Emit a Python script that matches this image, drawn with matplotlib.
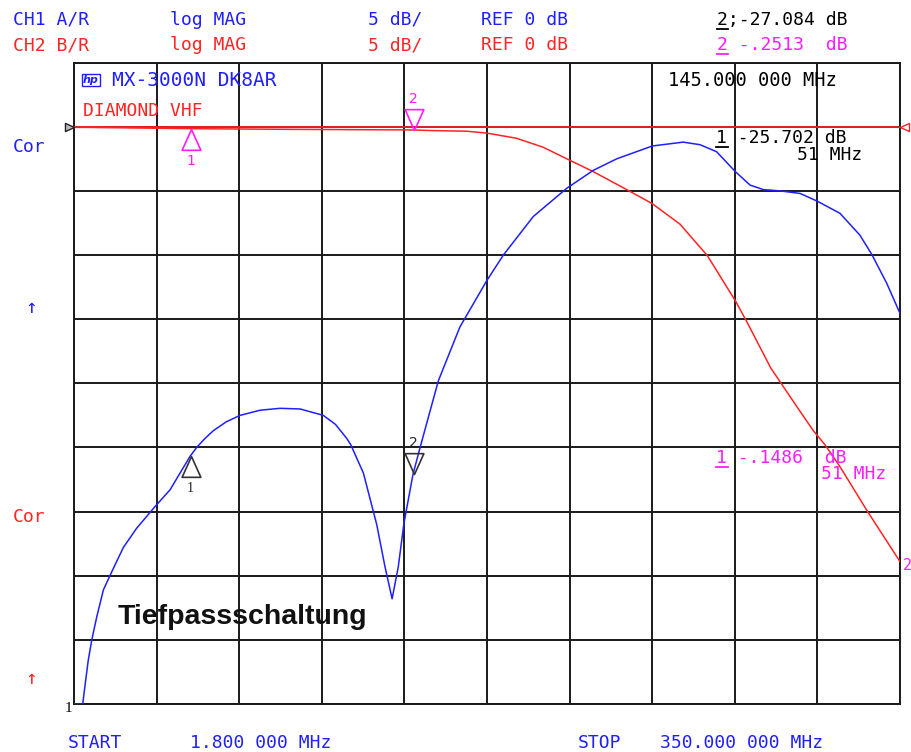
import matplotlib
matplotlib.use("Agg")
import matplotlib.pyplot as plt
from matplotlib.path import Path
from matplotlib.lines import Line2D
import numpy as np

W, H = 911, 752

# ---- data (MHz, dB) ----
f_start, f_stop = 1.8, 350.0
db_top, db_bottom = 5.0, -45.0

blue_f = [1.8, 5.5, 6.0, 7.8, 9.3, 11.4, 14.2, 17.7, 22.6, 28.2, 36.0, 42.3, 50.7,
          53.5, 57.0, 60.5, 66.0, 71.8, 80.2, 88.6, 97.1, 106.9, 112.0, 116.8, 118.5,
          123.8, 127.3, 129.4, 132.9, 135.9, 138.5, 140.9, 144.7, 147.7, 155.4, 164.5,
          175.8, 182.8, 195.4, 209.5, 220.7, 230.6, 245.6, 258.6, 265.7, 272.7, 280.6,
          286.8, 292.4, 299.4, 307.9, 315.1, 324.7, 333.1, 338.1, 344.4, 350.0]
blue_db = [-45.0, -45.0, -44.2, -41.6, -40.0, -38.2, -36.1, -34.7, -32.8, -31.3, -29.6,
           -28.3, -25.7, -25.0, -24.3, -23.7, -23.0, -22.5, -22.1, -21.95, -22.0, -22.5,
           -23.2, -24.3, -24.8, -27.0, -29.5, -31.0, -34.3, -36.8, -34.3, -30.9, -27.1,
           -25.0, -19.8, -15.6, -12.0, -10.0, -7.0, -4.8, -3.4, -2.5, -1.5, -1.2, -1.4,
           -1.95, -3.5, -4.55, -4.9, -5.0, -5.2, -5.8, -6.75, -8.45, -9.95, -12.2, -14.55]

red_f = [1.8, 6.9, 50.7, 89.9, 144.7, 153.1, 167.5, 176.0, 188.4, 199.6, 211.2, 220.7,
         234.8, 245.6, 257.3, 268.8, 280.7, 285.7, 295.5, 306.8, 313.5, 318.4,
         324.7, 336.0, 341.6, 350.0]
red_db = [-0.05, -0.05, -0.149, -0.2, -0.251, -0.3, -0.35, -0.5, -0.9, -1.6, -2.65,
          -3.5, -4.9, -6.0, -7.6, -10.05, -13.6, -15.3, -18.8, -21.9, -23.7,
          -24.8, -26.5, -29.9, -31.5, -33.9]

marker_f = [51.0, 145.0]
ch1_marker_db = [-25.702, -27.084]
ch2_marker_db = [-0.1486, -0.2513]
marker_names = ["1", "2"]

BLUE = "#1f1fff"
RED = "#ff2424"
MAG = "#ff1cff"
BLK = "#1a1a1a"
MONO = "DejaVu Sans Mono"
FS = 13

fig = plt.figure(figsize=(W / 100, H / 100), dpi=100)
fig.patch.set_facecolor("white")
ax = fig.add_axes([74 / W, 1 - 704 / H, (900 - 74) / W, (704 - 62.6) / H])
ax.set_xlim(f_start, f_stop)
ax.set_ylim(db_bottom, db_top)
ax.set_xticks(np.linspace(f_start, f_stop, 11))
ax.set_yticks(np.linspace(db_bottom, db_top, 11))
ax.grid(True, color=BLK, lw=1.4)
ax.tick_params(length=0, labelbottom=False, labelleft=False)
for s in ax.spines.values():
    s.set_color(BLK)
    s.set_linewidth(1.4)

# reference line
ax.axhline(0, color=RED, lw=1.2, zorder=3)

# traces
ax.plot(red_f, red_db, color=RED, lw=1.1, zorder=4)
ax.plot(blue_f, blue_db, color=BLUE, lw=1.1, zorder=4)

# marker shapes (apex at the data point)
up_tri = Path([(0, 0), (-0.45, -1), (0.45, -1), (0, 0)],
              [Path.MOVETO, Path.LINETO, Path.LINETO, Path.CLOSEPOLY])
down_tri = Path([(0, 0), (-0.45, 1), (0.45, 1), (0, 0)],
                [Path.MOVETO, Path.LINETO, Path.LINETO, Path.CLOSEPOLY])
left_tri = Path([(0, 0), (1, 0.45), (1, -0.45), (0, 0)],
                [Path.MOVETO, Path.LINETO, Path.LINETO, Path.CLOSEPOLY])
right_tri = Path([(0, 0), (-1, 0.45), (-1, -0.45), (0, 0)],
                 [Path.MOVETO, Path.LINETO, Path.LINETO, Path.CLOSEPOLY])

shapes = [up_tri, down_tri]
for i, (fm, name) in enumerate(zip(marker_f, marker_names)):
    shp = shapes[i]
    ax.plot([fm], [ch2_marker_db[i]], marker=shp, ms=30, mfc="none", mec=MAG, mew=1.2,
            ls="none", zorder=6)
    ax.plot([fm], [ch1_marker_db[i]], marker=shp, ms=30, mfc="none", mec="#333333",
            mew=1.2, ls="none", zorder=6)
    off = -32 if i == 0 else 31
    ax.annotate(name, (fm, ch2_marker_db[i]), xytext=(0, off), textcoords="offset pixels",
                ha="center", va="center", color=MAG, fontsize=10, family="DejaVu Sans")
    ax.annotate(name, (fm, ch1_marker_db[i]), xytext=(0, off), textcoords="offset pixels",
                ha="center", va="center", color="#222222", fontsize=10,
                family="Liberation Serif" if i == 0 else "DejaVu Sans")

# reference position arrows
ax.plot([f_start], [0], marker=right_tri, ms=13, mfc="#bbbbbb", mec="#222222", mew=1,
        ls="none", clip_on=False, zorder=7)
ax.plot([f_stop], [0], marker=left_tri, ms=13, mfc="white", mec=RED, mew=1,
        ls="none", clip_on=False, zorder=7)


def ftext(x, y, s, color, size=FS, ha="left", **kw):
    kw.setdefault("family", MONO)
    return fig.text(x / W, 1 - y / H, s, color=color, fontsize=size, ha=ha, va="center", **kw)


def uline(x0, x1, y, color):
    fig.add_artist(Line2D([x0 / W, x1 / W], [1 - y / H, 1 - y / H], color=color, lw=1.3,
                          transform=fig.transFigure))


# header
ftext(13, 20, "CH1 A/R", BLUE)
ftext(170, 20, "log MAG", BLUE)
ftext(368, 20, "5 dB/", BLUE)
ftext(481, 20, "REF 0 dB", BLUE)
ftext(717, 20, f"2;{ch1_marker_db[1]:.3f} dB", "black")
uline(717, 728, 29, "black")
ftext(13, 45, "CH2 B/R", RED)
ftext(170, 45, "log MAG", RED)
ftext(368, 45, "5 dB/", RED)
ftext(481, 45, "REF 0 dB", RED)
ftext(717, 45, "2 -.2513  dB", MAG)
uline(717, 728, 54, MAG)

# inside texts
fig.text(91 / W, 1 - 80 / H, "hp", color=BLUE, fontsize=8, ha="center", va="center",
         style="italic", weight="bold",
         bbox=dict(boxstyle="square,pad=0.12", fc="none", ec=BLUE, lw=1))
ftext(112, 80, "MX-3000N DK8AR", BLUE, size=14)
ftext(83, 111, "DIAMOND VHF", RED)
ftext(668, 80, "145.000 000 MHz", "black", size=13.5)
ftext(716, 138, "1 -25.702 dB", "black")
uline(716, 728, 147, "black")
ftext(862, 155, "51 MHz", "black", ha="right")
ftext(716, 458, "1 -.1486  dB", MAG)
uline(716, 728, 467, MAG)
ftext(886, 474, "51 MHz", MAG, ha="right")
fig.text(118 / W, 1 - 617 / H, "Tiefpassschaltung", color="#111111", fontsize=20.5,
         weight="bold", family="Liberation Sans", ha="left", va="center")

# left labels
ftext(13, 147, "Cor", BLUE)
ftext(31, 308, "↑", BLUE, size=14, ha="center")
ftext(13, 517, "Cor", RED)
ftext(31, 678, "↑", RED, size=14, ha="center")
ftext(68, 708, "1", "black", size=11, ha="center", family="Liberation Serif")
ftext(907, 565, "2", MAG, size=11, ha="center")

# footer
ftext(68, 743, "START", BLUE)
ftext(190, 743, "1.800 000 MHz", BLUE)
ftext(578, 743, "STOP", BLUE)
ftext(660, 743, "350.000 000 MHz", BLUE)

fig.savefig("out.png", dpi=100, facecolor="white")
